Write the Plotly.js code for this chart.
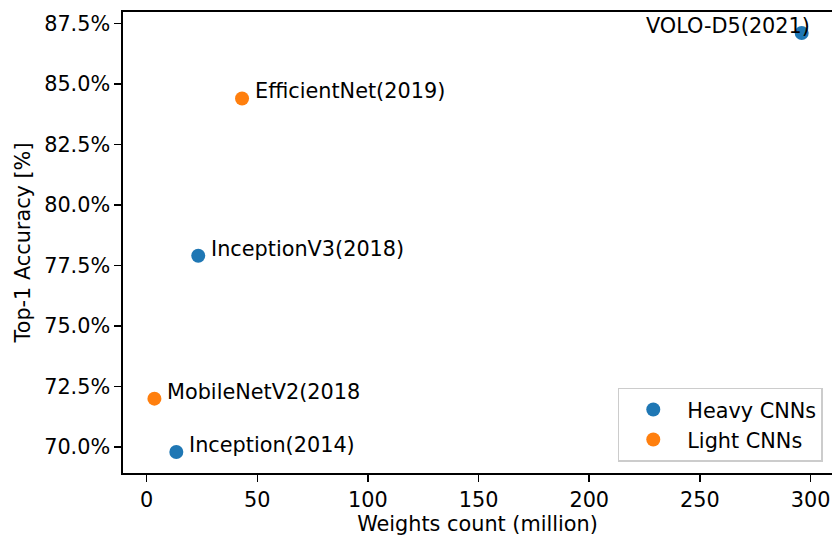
<!DOCTYPE html>
<html>
<head>
<meta charset="utf-8">
<script src="https://cdn.plot.ly/plotly-3.0.1.min.js"></script>
<style>html,body{margin:0;padding:0;background:#fff;}#chart{width:832px;height:536px;}</style>
</head>
<body>
<div id="chart"></div>
<script>
// Data
const heavyNames = ["Inception(2014)", "InceptionV3(2018)", "VOLO-D5(2021)"];
const heavyWeights = [13.4, 23.3, 296];
const heavyAcc = [69.8, 77.9, 87.1];

const lightNames = ["MobileNetV2(2018", "EfficientNet(2019)"];
const lightWeights = [3.5, 43.1];
const lightAcc = [72.0, 84.4];

const seriesNames = ["Heavy CNNs", "Light CNNs"];
const colors = ["#1f77b4", "#ff7f0e"];

const xTicks = [0, 50, 100, 150, 200, 250, 300];
const yTicks = [70.0, 72.5, 75.0, 77.5, 80.0, 82.5, 85.0, 87.5];

const FONT = "DejaVu Sans, sans-serif";
const FS = 20.8;

const traces = [
  {x: heavyWeights, y: heavyAcc, name: seriesNames[0], type: "scatter", mode: "markers",
   marker: {color: colors[0], size: 14}},
  {x: lightWeights, y: lightAcc, name: seriesNames[1], type: "scatter", mode: "markers",
   marker: {color: colors[1], size: 14}}
];

const annotations = [];
function addLabels(names, xs, ys) {
  names.forEach((n, i) => {
    const isRight = n.startsWith("VOLO");
    annotations.push({
      x: xs[i], y: ys[i], xref: "x", yref: "y", text: n, showarrow: false,
      xanchor: isRight ? "right" : "left", yanchor: "middle",
      xshift: isRight ? 10 : 11, yshift: 7,
      font: {family: FONT, size: FS, color: "#000"}
    });
  });
}
addLabels(heavyNames, heavyWeights, heavyAcc);
addLabels(lightNames, lightWeights, lightAcc);

const layout = {
  width: 832, height: 536,
  margin: {l: 123, r: 0, t: 12, b: 63, pad: 0},
  paper_bgcolor: "#fff", plot_bgcolor: "#fff",
  font: {family: FONT, size: FS, color: "#000"},
  showlegend: true,
  legend: {
    x: 0.987, y: 0.024, xanchor: "right", yanchor: "bottom",
    bgcolor: "rgba(255,255,255,0.8)", bordercolor: "#cccccc", borderwidth: 1.5,
    font: {family: FONT, size: FS, color: "#000"},
    itemwidth: 58, tracegroupgap: 0
  },
  xaxis: {
    range: [-10.7, 309.7], tickvals: xTicks, ticktext: xTicks.map(String),
    showgrid: false, zeroline: false, showline: true, linecolor: "#000", linewidth: 1.6, mirror: true,
    ticks: "outside", ticklen: 7, tickwidth: 1.6, tickcolor: "#000",
    title: {text: "Weights count (million)", font: {family: FONT, size: FS}, standoff: 9},
    automargin: false
  },
  yaxis: {
    range: [68.93, 87.97], tickvals: yTicks, ticktext: yTicks.map(v => v.toFixed(1) + "%"),
    showgrid: false, zeroline: false, showline: true, linecolor: "#000", linewidth: 1.6, mirror: false,
    ticks: "outside", ticklen: 7, tickwidth: 1.6, tickcolor: "#000",
    title: {text: "Top-1 Accuracy [%]", font: {family: FONT, size: FS}, standoff: 8},
    automargin: false
  },
  annotations: annotations
};

Plotly.newPlot("chart", traces, layout, {displayModeBar: false, staticPlot: true});
</script>
</body>
</html>
